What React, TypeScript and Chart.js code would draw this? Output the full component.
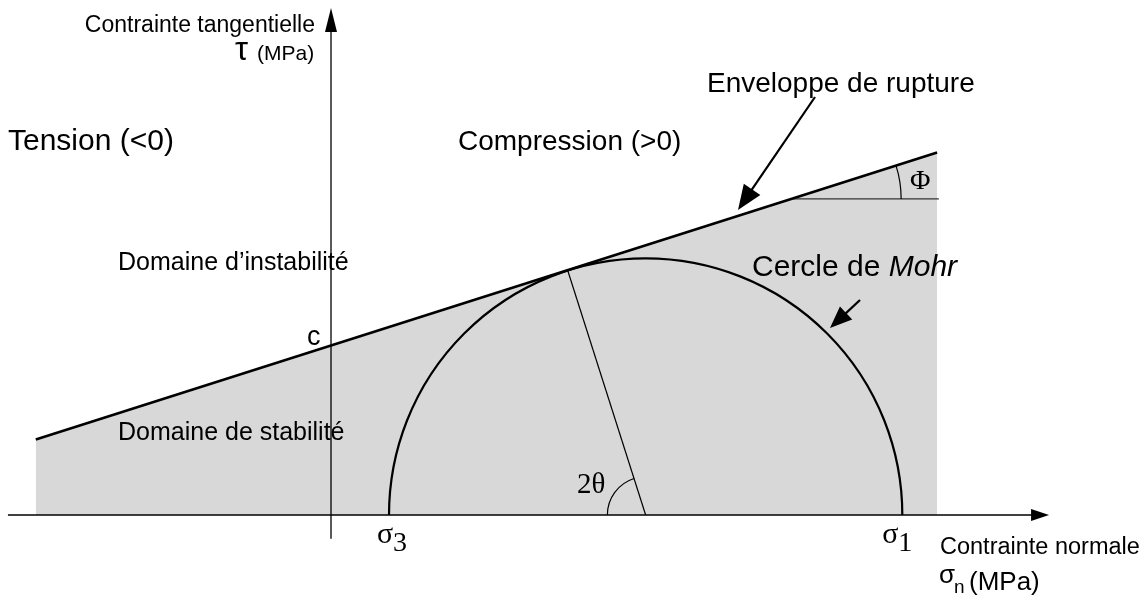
import React, { useEffect, useRef } from "react";
import { Chart, registerables } from "chart.js";

Chart.register(...registerables);

// ---- data (MPa) ----
const sigma3 = 10;
const sigma1 = 98.5;
const cohesion = 29.2;
const envelopeSigma = [-50.9, 104.5];
const envelopeTau = [13.0, 62.5];
const tangentSigma = 40.8;
const tangentTau = 42.2;
const phiRefSigma = [79.3, 104.8];
const phiRefTau = [54.5, 54.5];
const phiArcRadius = 19;
const thetaArcRadius = 6.6;
const xAxisRange = [-55.7, 123.8];
const yAxisRange = [-4.1, 87.4];

// view window
const X_MIN = -57.07;
const X_MAX = 140.17;
const Y_MIN = -14.14;
const Y_MAX = 88.79;

const SANS = '"Liberation Sans", Arial, sans-serif';
const SERIF = '"Liberation Serif", "Times New Roman", serif';

function arrowHead(ctx: CanvasRenderingContext2D, x0: number, y0: number, x1: number, y1: number, len: number, half: number) {
  const a = Math.atan2(y1 - y0, x1 - x0);
  const bx = x1 - len * Math.cos(a);
  const by = y1 - len * Math.sin(a);
  ctx.beginPath();
  ctx.moveTo(x1, y1);
  ctx.lineTo(bx + half * Math.sin(a), by - half * Math.cos(a));
  ctx.lineTo(bx - half * Math.sin(a), by + half * Math.cos(a));
  ctx.closePath();
  ctx.fill();
}

function arrow(ctx: CanvasRenderingContext2D, x0: number, y0: number, x1: number, y1: number, lw: number, len: number, half: number) {
  const a = Math.atan2(y1 - y0, x1 - x0);
  ctx.lineWidth = lw;
  ctx.beginPath();
  ctx.moveTo(x0, y0);
  ctx.lineTo(x1 - (len - 2) * Math.cos(a), y1 - (len - 2) * Math.sin(a));
  ctx.stroke();
  arrowHead(ctx, x0, y0, x1, y1, len, half);
}

function text(ctx: CanvasRenderingContext2D, s: string, x: number, y: number, font: string, align: CanvasTextAlign = "left") {
  ctx.font = font;
  ctx.textAlign = align;
  ctx.textBaseline = "alphabetic";
  ctx.fillText(s, x, y);
}

const mohrPlugin = {
  id: "mohr",
  afterDatasetsDraw(chart: any) {
    const ctx: CanvasRenderingContext2D = chart.ctx;
    const xs = chart.scales.x;
    const ys = chart.scales.y;
    const px = (v: number) => xs.getPixelForValue(v);
    const py = (v: number) => ys.getPixelForValue(v);
    ctx.save();
    ctx.fillStyle = "#000";
    ctx.strokeStyle = "#000";

    // Mohr circle
    const cS = (sigma1 + sigma3) / 2;
    const cx = px(cS);
    const cy = py(0);
    const r = px(sigma1) - cx;
    ctx.lineWidth = 2.2;
    ctx.beginPath();
    ctx.arc(cx, cy, r, Math.PI, 2 * Math.PI);
    ctx.stroke();

    // 2θ arc
    const tx = px(tangentSigma);
    const ty = py(tangentTau);
    let ang = Math.atan2(ty - cy, tx - cx);
    if (ang < 0) ang += 2 * Math.PI;
    ctx.lineWidth = 1.2;
    ctx.beginPath();
    ctx.arc(cx, cy, px(thetaArcRadius) - px(0), Math.PI, ang);
    ctx.stroke();

    // Φ arc
    const ex0 = px(envelopeSigma[0]), ey0 = py(envelopeTau[0]);
    const ex1 = px(envelopeSigma[1]), ey1 = py(envelopeTau[1]);
    const phiAng = Math.atan2(ey1 - ey0, ex1 - ex0);
    const fx = px(phiRefSigma[0]);
    const fy = py(phiRefTau[0]);
    ctx.beginPath();
    ctx.arc(fx, fy, px(phiArcRadius) - px(0), phiAng, 0);
    ctx.stroke();

    // axes
    const ox = px(0), oy = py(0);
    arrow(ctx, px(xAxisRange[0]), oy, px(xAxisRange[1]), oy, 1.3, 18, 6);
    arrow(ctx, ox, py(yAxisRange[0]), ox, py(yAxisRange[1]), 1.3, 24, 6);

    // pointer arrows
    arrow(ctx, 815, 97, 738, 210, 2.2, 25, 10);
    arrow(ctx, 860, 300, 830, 328, 2.2, 22, 9);

    // labels
    text(ctx, "Contrainte tangentielle", 315, 32, `23px ${SANS}`, "right");
    text(ctx, "\u03c4", 235, 60, `33px ${SANS}`);
    text(ctx, "(MPa)", 257, 60, `21px ${SANS}`);
    text(ctx, "Tension (<0)", 8, 150, `30px ${SANS}`);
    text(ctx, "Compression (>0)", 458, 150, `28px ${SANS}`);
    text(ctx, "Enveloppe de rupture", 707, 92, `28px ${SANS}`);
    text(ctx, "Domaine d\u2019instabilit\u00e9", 118, 270, `25px ${SANS}`);
    text(ctx, "Domaine de stabilit\u00e9", 118, 440, `25px ${SANS}`);
    text(ctx, "c", ox - 24, py(cohesion) - 1, `27px ${SANS}`);

    const pre = "Cercle de ";
    text(ctx, pre, 752, 276, `30px ${SANS}`);
    const w = ctx.measureText(pre).width;
    text(ctx, "Mohr", 752 + w, 276, `italic 30px ${SANS}`);

    text(ctx, "2\u03b8", 577, 493, `29px ${SERIF}`);
    text(ctx, "\u03a6", 910, 189, `28px ${SERIF}`);

    text(ctx, "\u03c3", px(sigma3) - 12, 543, `30px ${SERIF}`);
    text(ctx, "3", px(sigma3) + 4, 551, `28px ${SERIF}`);
    text(ctx, "\u03c3", px(sigma1) - 20, 543, `30px ${SERIF}`);
    text(ctx, "1", px(sigma1) - 4, 551, `28px ${SERIF}`);

    text(ctx, "Contrainte normale", 940, 554, `23.5px ${SANS}`);
    text(ctx, "\u03c3", 939, 583, `26px ${SANS}`);
    text(ctx, "n", 954, 593, `19px ${SANS}`);
    text(ctx, "(MPa)", 969, 590, `26px ${SANS}`);

    ctx.restore();
  },
};

export default function App() {
  const ref = useRef<HTMLCanvasElement | null>(null);
  useEffect(() => {
    if (!ref.current) return;
    const chart = new Chart(ref.current, {
      type: "line",
      data: {
        datasets: [
          {
            label: "Enveloppe de rupture",
            data: envelopeSigma.map((s, i) => ({ x: s, y: envelopeTau[i] })),
            borderColor: "#000",
            borderWidth: 2.6,
            backgroundColor: "#d8d8d8",
            fill: "origin",
            pointRadius: 0,
            order: 0,
          },
          {
            label: "rayon",
            data: [
              { x: (sigma1 + sigma3) / 2, y: 0 },
              { x: tangentSigma, y: tangentTau },
            ],
            borderColor: "#000",
            borderWidth: 1.2,
            fill: false,
            pointRadius: 0,
            order: 1,
          },
          {
            label: "phi",
            data: phiRefSigma.map((s, i) => ({ x: s, y: phiRefTau[i] })),
            borderColor: "#333",
            borderWidth: 1.2,
            fill: false,
            pointRadius: 0,
            order: 1,
          },
        ],
      },
      options: {
        responsive: false,
        animation: false,
        layout: { padding: 0 },
        plugins: {
          legend: { display: false },
          tooltip: { enabled: false },
          filler: { drawTime: "beforeDatasetsDraw" },
        },
        scales: {
          x: { type: "linear", display: false, min: X_MIN, max: X_MAX },
          y: { type: "linear", display: false, min: Y_MIN, max: Y_MAX },
        },
      },
      plugins: [mohrPlugin],
    } as any);
    return () => chart.destroy();
  }, []);
  return (
    <div style={{ position: "fixed", left: 0, top: 0, width: 1144, height: 597, background: "#fff" }}>
      <canvas ref={ref} width={1144} height={597} />
    </div>
  );
}
